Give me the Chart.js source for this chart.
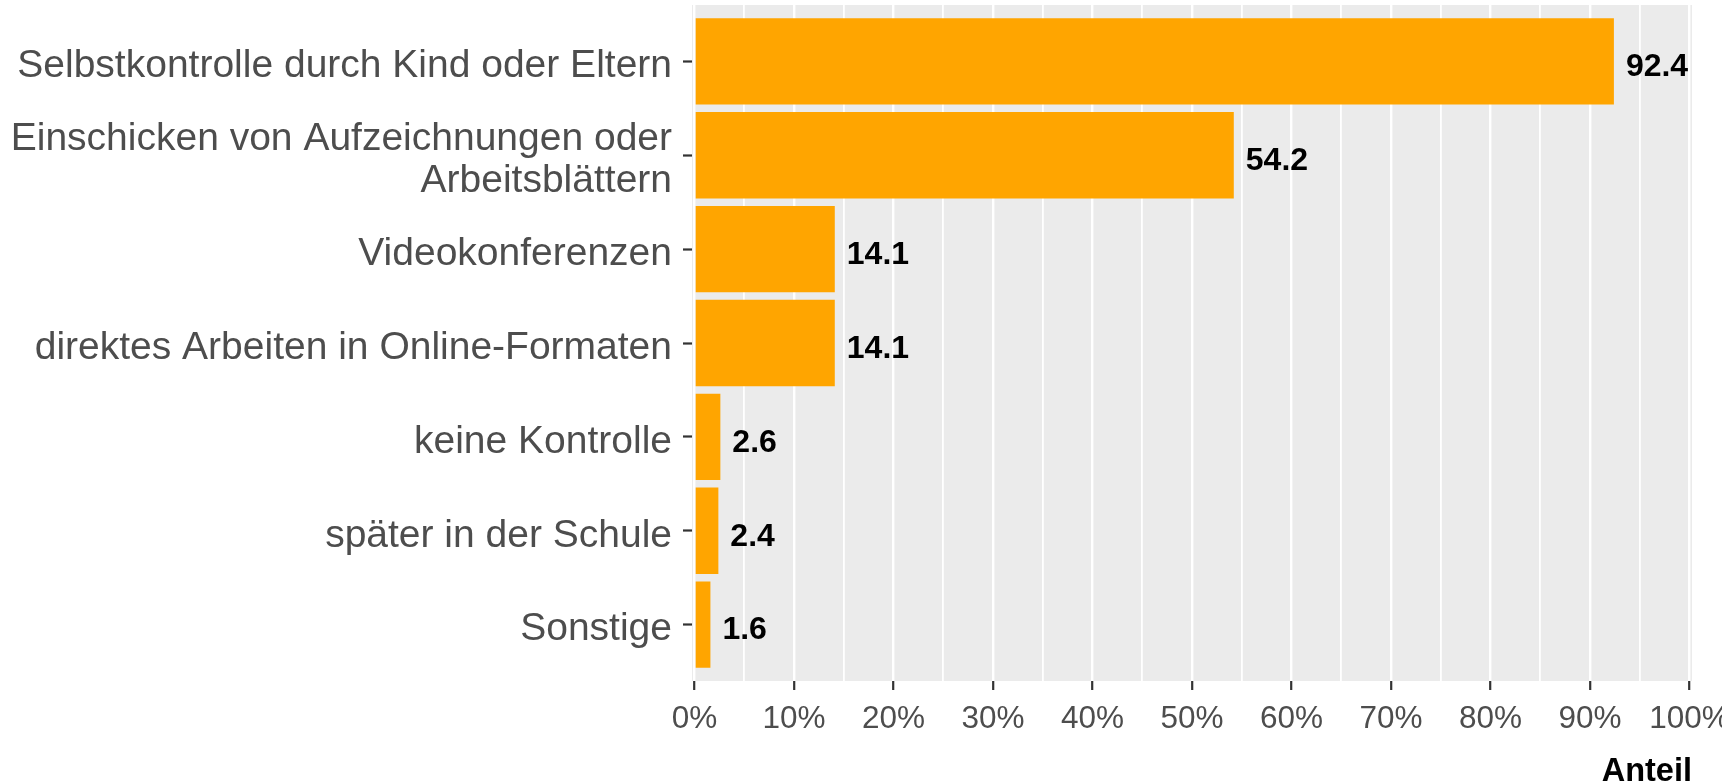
<!DOCTYPE html>
<html>
<head>
<meta charset="utf-8">
<script src="https://cdn.jsdelivr.net/npm/chart.js@4"></script>
<style>
body{
    margin:0;
    background:#ffffff;
}
</style>
</head>
<body>
<canvas id="kontrolleChart" width="1722" height="784"></canvas>
<script>

const categories = [
    'Selbstkontrolle durch Kind oder Eltern',
    ['Einschicken von Aufzeichnungen oder', 'Arbeitsblättern'],
    'Videokonferenzen',
    'direktes Arbeiten in Online-Formaten',
    'keine Kontrolle',
    'später in der Schule',
    'Sonstige'
];

const anteilValues = [92.4, 54.2, 14.1, 14.1, 2.6, 2.4, 1.6];

const xTickValues = [0,5,10,15,20,25,30,35,40,45,50,55,60,65,70,75,80,85,90,95,100];

const axisTitle = 'Anteil';

const panelBackground = {
    id:'panelBackground',
    beforeDraw(chart){
        const ctx = chart.ctx;
        const a = chart.chartArea;
        ctx.save();
        ctx.fillStyle = '#EBEBEB';
        ctx.fillRect(a.left, a.top, a.right - a.left, a.bottom - a.top);
        ctx.restore();
    }
};

const valueLabels = {
    id:'valueLabels',
    afterDatasetsDraw(chart){
        const ctx = chart.ctx;
        const meta = chart.getDatasetMeta(0);
        ctx.save();
        ctx.font = 'bold 32px "Liberation Sans", Arial, sans-serif';
        ctx.fillStyle = '#000000';
        ctx.textAlign = 'left';
        ctx.textBaseline = 'middle';
        meta.data.forEach((bar, i) => {
            ctx.fillText(anteilValues[i].toFixed(1), bar.x + 12, bar.y + 6);
        });
        ctx.restore();
    }
};

const kontrolleChart =
document.getElementById('kontrolleChart');

new Chart(kontrolleChart, {
    type:'bar',
    data:{
        datasets:[{
            label:axisTitle,
            data:anteilValues.map((v, i) => ({x:v, y:i})),
            backgroundColor:'#FFA500',
            borderWidth:0,
            barPercentage:0.92,
            categoryPercentage:1
        }]
    },
    options:{
        indexAxis:'y',
        responsive:false,
        animation:false,
        layout:{
            padding:{top:5, right:30, left:0, bottom:0}
        },
        plugins:{
            legend:{display:false},
            tooltip:{enabled:false}
        },
        scales:{
            x:{
                type:'linear',
                min:-0.25,
                max:100.25,
                afterBuildTicks(scale){
                    scale.ticks = xTickValues.map(v => ({value:v}));
                },
                afterFit(scale){
                    scale.height = 103;
                    scale.paddingLeft = 0;
                    scale.paddingRight = 0;
                },
                border:{display:false},
                grid:{
                    color:'#FFFFFF',
                    lineWidth:c => c.tick && c.tick.value % 10 === 0 ? 2.4 : 1.8,
                    tickColor:c => c.tick && c.tick.value % 10 === 0 ? '#333333' : 'rgba(0,0,0,0)',
                    tickWidth:2.2,
                    tickLength:9
                },
                ticks:{
                    autoSkip:false,
                    maxRotation:0,
                    padding:10,
                    color:'#4D4D4D',
                    font:{family:'"Liberation Sans", Arial, sans-serif', size:31.5},
                    callback:v => v % 10 === 0 ? v + '%' : ''
                },
                title:{
                    display:true,
                    text:axisTitle,
                    align:'end',
                    color:'#000000',
                    padding:0,
                    font:{family:'"Liberation Sans", Arial, sans-serif', size:32.5, weight:'bold', lineHeight:0.72}
                }
            },
            y:{
                type:'linear',
                min:-0.6,
                max:6.6,
                reverse:true,
                offset:false,
                afterBuildTicks(scale){
                    scale.ticks = categories.map((c, i) => ({value:i}));
                },
                afterFit(scale){
                    scale.width = 692;
                    scale.paddingTop = 0;
                    scale.paddingBottom = 0;
                },
                border:{display:false},
                grid:{
                    offset:false,
                    drawOnChartArea:false,
                    tickColor:'#333333',
                    tickWidth:2.2,
                    tickLength:9
                },
                ticks:{
                    autoSkip:false,
                    padding:11,
                    labelOffset:5,
                    color:'#4D4D4D',
                    font:{family:'"Liberation Sans", Arial, sans-serif', size:39, lineHeight:1.06},
                    callback:v => categories[v]
                }
            }
        }
    },
    plugins:[panelBackground, valueLabels]
});

</script>
</body>
</html>
